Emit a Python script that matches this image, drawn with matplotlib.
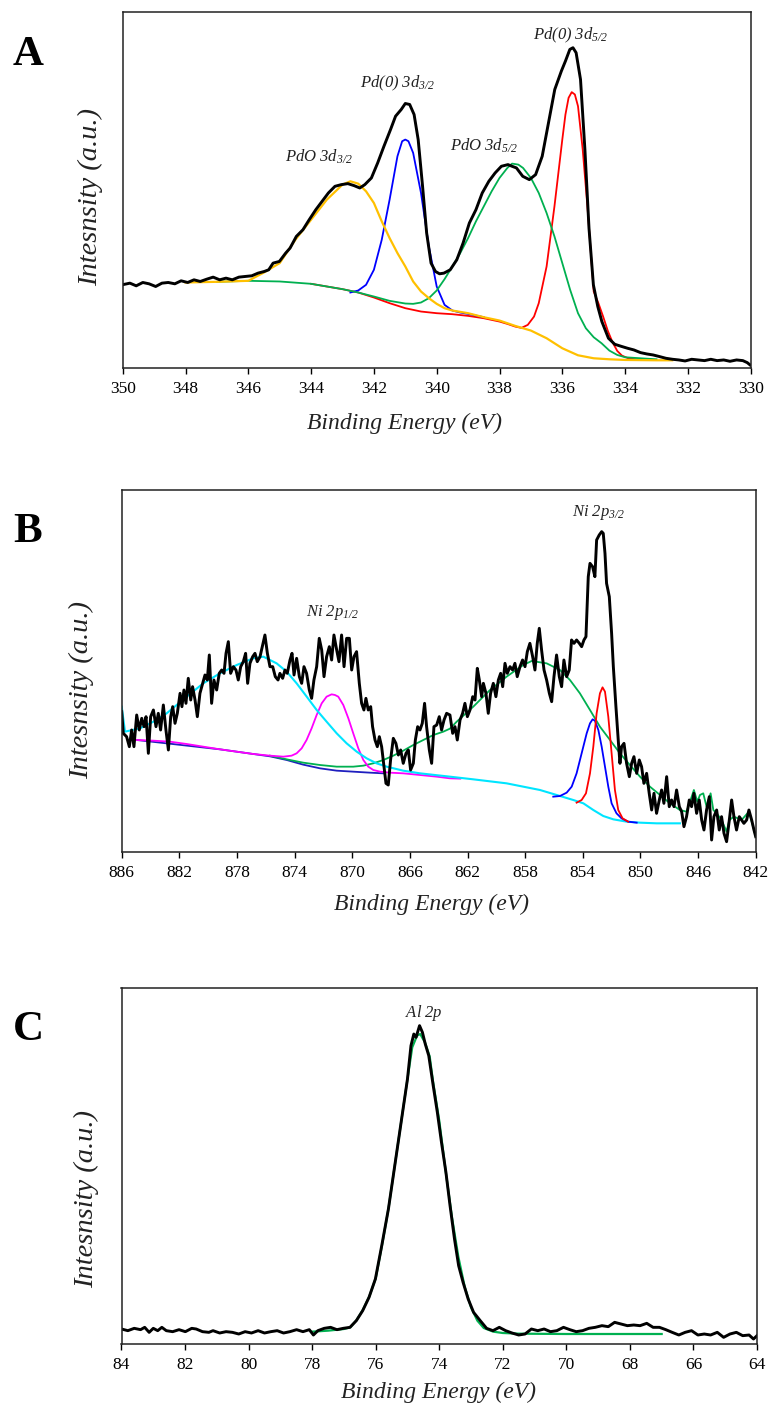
import matplotlib
matplotlib.use("Agg")
import matplotlib.pyplot as plt

plt.rcParams['font.family'] = ['Liberation Serif', 'DejaVu Serif']
plt.rcParams['mathtext.fontset'] = 'custom'
plt.rcParams['mathtext.rm'] = 'Liberation Serif:italic'
plt.rcParams['mathtext.it'] = 'Liberation Serif:italic'
plt.rcParams['mathtext.default'] = 'it'

# ---------------- Panel A : Pd 3d ----------------
a_xticks = [350, 348, 346, 344, 342, 340, 338, 336, 334, 332, 330]
a_black_ev = [350.02, 349.77, 349.57, 349.36, 349.16, 348.95, 348.75, 348.55, 348.34, 348.14,
              347.93, 347.73, 347.53, 347.32, 347.12, 346.91, 346.71, 346.51, 346.30, 346.10,
              345.89, 345.69, 345.49, 345.35, 345.21, 345.01, 344.81, 344.67, 344.47, 344.26,
              344.06, 343.85, 343.65, 343.45, 343.24, 343.04, 342.83, 342.63, 342.45, 342.29,
              342.08, 341.88, 341.68, 341.47, 341.31, 341.13, 341.00, 340.86, 340.72, 340.59,
              340.45, 340.32, 340.18, 340.04, 339.91, 339.77, 339.57, 339.36, 339.16, 338.96,
              338.75, 338.55, 338.34, 338.14, 337.94, 337.73, 337.60, 337.46, 337.26, 337.05,
              336.85, 336.64, 336.44, 336.24, 336.03, 335.90, 335.76, 335.66, 335.56, 335.42,
              335.28, 335.15, 335.01, 334.87, 334.74, 334.53, 334.33, 334.13, 333.92, 333.72,
              333.51, 333.31, 333.11, 332.90, 332.70, 332.49, 332.29, 332.09, 331.88, 331.68,
              331.47, 331.27, 331.07, 330.86, 330.66, 330.45, 330.25, 330.11, 330.02]
a_black_int = [250, 255, 247, 257, 253, 245, 255, 257, 253, 262,
               257, 265, 260, 267, 273, 265, 270, 265, 273, 275,
               277, 285, 290, 295, 315, 320, 345, 360, 395, 415,
               445, 475, 500, 525, 545, 550, 553, 547, 540, 550,
               570, 615, 665, 715, 755, 775, 793, 790, 760, 685,
               545, 405, 315, 290, 283, 285, 295, 325, 375, 435,
               475, 525, 560, 585, 605, 610, 605, 600, 575, 565,
               580, 635, 735, 835, 890, 920, 955, 960, 945, 865,
               655, 420, 250, 185, 140, 90, 72, 66, 60, 55,
               47, 43, 40, 35, 30, 27, 25, 22, 27, 25,
               23, 27, 23, 25, 21, 25, 23, 17, 10]
a_yellow_ev = [348, 347, 346, 345.5, 345, 344.5, 344, 343.5, 343, 342.75, 342.5, 342.25, 342,
               341.75, 341.5, 341.25, 341, 340.75, 340.5, 340.25, 340, 339.75, 339.5, 339,
               338.5, 338, 337.5, 337, 336.5, 336, 335.5, 335, 334.5, 334, 333, 332.5]
a_yellow_int = [257, 259, 262, 287, 315, 385, 445, 505, 550, 560, 553, 530, 495,
                440, 390, 345, 305, 260, 230, 210, 193, 180, 173, 165,
                153, 143, 127, 113, 90, 60, 39, 30, 27, 25, 24, 24]
a_blue_ev = [342.75, 342.5, 342.25, 342, 341.75, 341.5, 341.25, 341.1, 341, 340.9, 340.75,
             340.5, 340.25, 340, 339.75, 339.5, 339.25, 339, 338.5]
a_blue_int = [227, 233, 250, 295, 385, 505, 635, 680, 685, 680, 645,
              525, 365, 245, 190, 173, 167, 163, 153]
a_green_ev = [347, 346, 345, 344, 343.5, 343, 342.5, 342, 341.5, 341, 340.75, 340.5, 340.25,
              340, 339.75, 339.5, 339.25, 339, 338.75, 338.5, 338.25, 338, 337.75, 337.6,
              337.4, 337.25, 337, 336.75, 336.5, 336.25, 336, 335.75, 335.5, 335.25, 335,
              334.75, 334.5, 334.25, 334, 333.5, 333]
a_green_int = [259, 262, 260, 253, 245, 237, 227, 215, 202, 194, 193, 197, 210,
               233, 267, 305, 345, 390, 440, 485, 530, 570, 600, 613,
               610, 600, 570, 525, 465, 395, 315, 235, 165, 120, 93,
               75, 53, 40, 33, 30, 27]
a_red_ev = [344, 343, 342.5, 342, 341.5, 341, 340.5, 340, 339.5, 339, 338.5, 338, 337.75,
            337.5, 337.3, 337.1, 336.9, 336.75, 336.5, 336.25, 336, 335.9, 335.8, 335.7,
            335.6, 335.5, 335.35, 335.2, 335, 334.85, 334.7, 334.55, 334.4, 334.25, 334.1,
            333.9, 333.5]
a_red_int = [253, 237, 227, 212, 195, 180, 170, 165, 162, 157, 150, 140, 133,
             125, 121, 130, 155, 195, 305, 485, 685, 760, 810, 827,
             820, 785, 655, 485, 230, 195, 155, 112, 78, 52, 38,
             30, 25]
a_labels = [r"$PdO\ 3d_{3/2}$", r"$Pd(0)\ 3d_{3/2}$", r"$PdO\ 3d_{5/2}$", r"$Pd(0)\ 3d_{5/2}$"]
a_label_ev = [343.75, 341.23, 338.49, 335.72]
a_label_int = [634, 853, 667, 997]

# ---------------- Panel B : Ni 2p ----------------
b_xticks = [886, 882, 878, 874, 870, 866, 862, 858, 854, 850, 846, 842]
b_black = [(886.00, 421), (885.89, 356), (885.66, 346), (885.47, 316), (885.31, 366), (885.15, 316),
           (884.96, 411), (884.78, 366), (884.61, 401), (884.45, 376), (884.31, 406), (884.15, 296),
           (883.99, 406), (883.80, 426), (883.62, 376), (883.46, 416), (883.30, 366), (883.11, 441),
           (882.93, 366), (882.76, 306), (882.60, 406), (882.46, 436), (882.30, 386), (882.14, 416),
           (881.95, 476), (881.82, 436), (881.68, 486), (881.54, 446), (881.38, 521), (881.21, 456),
           (881.08, 496), (880.91, 456), (880.75, 406), (880.57, 476), (880.38, 506), (880.22, 531),
           (880.06, 516), (879.92, 591), (879.76, 446), (879.60, 516), (879.41, 486), (879.23, 536),
           (879.06, 546), (878.90, 536), (878.76, 596), (878.60, 631), (878.44, 536), (878.25, 556),
           (878.07, 546), (877.91, 516), (877.74, 556), (877.56, 571), (877.40, 596), (877.26, 506),
           (877.10, 566), (876.91, 586), (876.75, 596), (876.59, 571), (876.40, 586), (876.24, 616),
           (876.06, 651), (875.89, 596), (875.71, 556), (875.52, 556), (875.34, 526), (875.15, 516),
           (875.02, 536), (874.83, 521), (874.67, 546), (874.51, 536), (874.32, 576), (874.18, 596),
           (874.04, 531), (873.86, 581), (873.67, 526), (873.51, 506), (873.35, 556), (873.17, 536),
           (872.98, 486), (872.82, 461), (872.66, 516), (872.47, 556), (872.29, 641), (872.12, 606),
           (871.96, 526), (871.78, 586), (871.59, 616), (871.43, 576), (871.27, 651), (871.08, 606),
           (870.92, 571), (870.74, 651), (870.57, 556), (870.39, 641), (870.20, 641), (870.04, 546),
           (869.88, 586), (869.70, 601), (869.51, 506), (869.35, 446), (869.19, 426), (869.05, 461),
           (868.89, 426), (868.72, 436), (868.59, 376), (868.42, 336), (868.26, 316), (868.12, 346),
           (867.96, 316), (867.80, 256), (867.66, 206), (867.50, 201), (867.34, 276), (867.15, 341),
           (866.97, 326), (866.80, 291), (866.64, 306), (866.46, 266), (866.27, 296), (866.11, 306),
           (865.95, 246), (865.76, 266), (865.62, 336), (865.46, 376), (865.30, 366), (865.14, 386),
           (864.98, 446), (864.84, 376), (864.65, 306), (864.49, 266), (864.33, 376), (864.14, 381),
           (863.96, 406), (863.80, 366), (863.63, 396), (863.45, 416), (863.22, 411),
           (863.03, 356), (862.87, 376), (862.71, 336), (862.52, 396), (862.34, 416), (862.18, 446),
           (862.01, 406), (861.83, 426), (861.64, 466), (861.48, 456), (861.32, 551), (861.18, 516),
           (861.02, 466), (860.90, 506), (860.72, 476), (860.56, 416), (860.40, 476), (860.21, 506),
           (860.03, 466), (859.86, 516), (859.70, 536), (859.56, 496), (859.40, 566), (859.24, 536),
           (859.05, 556), (858.87, 546), (858.71, 566), (858.55, 526), (858.36, 556), (858.18, 576),
           (858.01, 556), (857.85, 601), (857.67, 626), (857.48, 586), (857.32, 546), (857.16, 626),
           (857.02, 671), (856.86, 606), (856.69, 546), (856.51, 516), (856.32, 476), (856.16, 451),
           (856.00, 526), (855.82, 591), (855.63, 526), (855.47, 496), (855.31, 576), (855.12, 526),
           (854.94, 546), (854.78, 636), (854.61, 626), (854.43, 636), (854.24, 626), (854.08, 616),
           (853.92, 636), (853.78, 646), (853.62, 826), (853.50, 866), (853.32, 856), (853.16, 826),
           (853.04, 936), (852.86, 951), (852.69, 961), (852.58, 956), (852.46, 896), (852.35, 806),
           (852.16, 766), (852.00, 656), (851.88, 556), (851.70, 436), (851.54, 336), (851.42, 266),
           (851.31, 316), (851.14, 326), (850.96, 266), (850.77, 226), (850.61, 266), (850.45, 286),
           (850.26, 236), (850.08, 276), (849.92, 256), (849.76, 206), (849.57, 236), (849.39, 176),
           (849.22, 126), (849.06, 176), (848.88, 116), (848.69, 156), (848.53, 186), (848.37, 146),
           (848.18, 226), (848.00, 136), (847.84, 156), (847.67, 136), (847.49, 186), (847.30, 136),
           (847.14, 121), (846.98, 76), (846.80, 106), (846.61, 156), (846.45, 136), (846.29, 176),
           (846.10, 116), (845.92, 156), (845.75, 96), (845.59, 66), (845.41, 126), (845.22, 166),
           (845.06, 36), (844.90, 106), (844.71, 126), (844.53, 66), (844.37, 106), (844.20, 56),
           (844.02, 31), (843.83, 96), (843.67, 156), (843.51, 106), (843.33, 66), (843.14, 106),
           (842.98, 96), (842.82, 86), (842.63, 96), (842.47, 126), (842.28, 96), (842.12, 66),
           (842.00, 46)]
b_cyan = [(886.00, 436), (885.77, 361), (884.73, 371), (883.80, 391), (882.88, 416), (881.49, 466),
          (880.34, 506), (879.18, 536), (878.02, 561), (876.87, 581), (876.17, 586), (875.25, 566),
          (874.55, 541), (873.86, 506), (873.16, 466), (872.47, 426), (871.78, 391), (871.08, 356),
          (870.39, 326), (869.69, 301), (869.00, 281), (868.31, 266), (867.61, 256), (866.46, 244),
          (865.30, 236), (863.22, 226), (861.60, 218), (859.29, 206), (856.97, 186), (855.81, 171),
          (854.66, 156), (853.96, 146), (853.27, 126), (852.58, 108), (851.88, 98), (850.96, 91),
          (850.03, 88), (848.87, 86), (847.26, 86)]
b_magenta = [(884.96, 336), (883.80, 334), (882.65, 331), (881.49, 324), (880.34, 316), (879.18, 308),
             (878.02, 301), (876.87, 294), (875.71, 289), (874.78, 286), (874.21, 289), (873.86, 296),
             (873.51, 311), (873.17, 336), (872.82, 371), (872.47, 411), (872.12, 446), (871.78, 466),
             (871.43, 473), (871.20, 471), (870.97, 466), (870.62, 441), (870.27, 401), (869.93, 356),
             (869.58, 311), (869.23, 276), (868.89, 256), (868.54, 246), (868.07, 241), (867.38, 238),
             (866.46, 236), (865.30, 231), (864.14, 226), (863.22, 221), (862.50, 220)]
b_navy = [(884.96, 336), (879.18, 308), (875.71, 287), (874.55, 276), (873.40, 262), (872.24, 251),
          (871.08, 244), (869.93, 241), (868.77, 238), (867.84, 236)]
b_green = [(875.71, 289), (874.55, 278), (873.40, 268), (872.24, 261), (871.08, 256), (869.93, 256),
           (869.23, 259), (868.54, 266), (867.84, 276), (867.15, 289), (866.46, 304), (865.76, 321),
           (865.07, 336), (864.37, 351), (863.68, 361), (863.22, 370), (862.75, 391), (861.60, 436),
           (860.44, 486), (859.29, 526), (858.13, 561), (857.55, 573), (856.51, 566), (855.58, 546),
           (854.89, 516), (854.20, 476), (853.50, 426), (852.81, 376), (852.11, 336), (851.42, 296),
           (850.73, 261), (850.03, 226), (849.34, 196), (848.64, 171), (847.95, 146), (847.26, 126),
           (846.80, 121), (846.52, 156), (846.29, 186), (846.05, 151), (845.87, 171), (845.64, 176),
           (845.41, 136), (845.13, 176), (844.94, 126), (844.71, 116), (844.37, 96), (844.02, 61),
           (843.83, 96), (843.51, 106), (842.98, 96), (842.47, 121), (842.12, 66), (842.00, 46)]
b_blue = [(856.05, 166), (855.58, 168), (855.12, 178), (854.77, 196), (854.43, 236), (854.08, 296),
          (853.73, 356), (853.50, 386), (853.32, 398), (853.16, 394), (852.92, 366), (852.69, 316),
          (852.46, 256), (852.23, 196), (852.00, 146), (851.66, 116), (851.31, 101), (850.85, 91),
          (850.26, 88)]
b_red = [(854.43, 148), (854.08, 156), (853.78, 176), (853.50, 236), (853.27, 316), (853.04, 416),
         (852.81, 476), (852.63, 494), (852.46, 481), (852.23, 406), (852.00, 296), (851.77, 186),
         (851.54, 126), (851.24, 101), (850.85, 91)]
b_labels = [r"$Ni\ 2p_{1/2}$", r"$Ni\ 2p_{3/2}$"]
b_label_ev = [871.37, 852.91]
b_label_int = [720, 1017]

# ---------------- Panel C : Al 2p ----------------
c_xticks = [84, 82, 80, 78, 76, 74, 72, 70, 68, 66, 64]
c_black_ev = [84.00, 83.80, 83.60, 83.40, 83.27, 83.13, 83.00, 82.86, 82.73, 82.59,
              82.39, 82.19, 81.99, 81.79, 81.65, 81.45, 81.25, 81.12, 80.91, 80.71,
              80.51, 80.31, 80.11, 79.91, 79.70, 79.50, 79.30, 79.10, 78.90, 78.70,
              78.49, 78.29, 78.09, 77.96, 77.82, 77.62, 77.42, 77.22, 77.02, 76.81,
              76.61, 76.41, 76.21, 76.01, 75.81, 75.60, 75.40, 75.20, 75.00, 74.89,
              74.80, 74.73, 74.62, 74.53, 74.44, 74.33, 74.19, 74.06, 73.93, 73.79,
              73.66, 73.52, 73.39, 73.25, 73.09, 72.92, 72.71, 72.51, 72.31, 72.11,
              71.91, 71.71, 71.50, 71.30, 71.10, 70.90, 70.70, 70.50, 70.30, 70.09,
              69.89, 69.69, 69.49, 69.29, 69.09, 68.88, 68.68, 68.48, 68.28, 68.08,
              67.88, 67.68, 67.47, 67.27, 67.07, 66.87, 66.67, 66.46, 66.26, 66.06,
              65.86, 65.66, 65.46, 65.25, 65.05, 64.85, 64.65, 64.45, 64.25, 64.11, 64.00]
c_black_int = [45, 40, 47, 43, 50, 35, 47, 40, 50, 40,
               37, 43, 37, 47, 45, 37, 35, 40, 33, 37,
               35, 30, 37, 33, 40, 33, 37, 40, 33, 37,
               43, 37, 43, 27, 40, 47, 50, 43, 47, 50,
               70, 100, 140, 195, 295, 405, 535, 665, 795, 895,
               930, 920, 955, 935, 900, 865, 775, 695, 605, 515,
               415, 315, 235, 185, 135, 95, 70, 47, 40, 50,
               40, 33, 27, 30, 45, 40, 45, 37, 40, 50,
               43, 37, 40, 47, 50, 55, 52, 65, 60, 55,
               57, 55, 62, 50, 50, 43, 35, 27, 35, 40,
               27, 30, 27, 35, 20, 30, 35, 25, 27, 15, 25]
c_green_ev = [78.0, 77.5, 77.0, 76.8, 76.6, 76.4, 76.2, 76.0, 75.8, 75.6, 75.4, 75.2, 75.0,
              74.85, 74.7, 74.6, 74.45, 74.3, 74.2, 74.0, 73.8, 73.6, 73.4, 73.2, 73.0,
              72.8, 72.6, 72.3, 72.0, 71.5, 70.0, 67.0]
c_green_int = [37, 40, 45, 50, 72, 103, 143, 197, 297, 405, 535, 665, 795,
               890, 925, 930, 905, 862, 790, 670, 520, 380, 262, 172, 110,
               70, 48, 37, 33, 31, 30, 30]
c_labels = [r"$Al\ 2p$"]
c_label_ev = [74.47]
c_label_int = [993]

W, H = 771, 1410
fig = plt.figure(figsize=(W / 100, H / 100), dpi=100)


def make_axes(left, right, top, bottom):
    return fig.add_axes([left / W, 1 - bottom / H, (right - left) / W, (bottom - top) / H])


def style(ax, xlim, ylim, ticks, xlab_pos, ylab_pos):
    ax.set_xlim(*xlim)
    ax.set_ylim(*ylim)
    ax.set_xticks(ticks)
    ax.set_xticklabels([str(t) for t in ticks])
    ax.set_yticks([])
    ax.tick_params(axis='x', direction='out', length=4, width=1.0, labelsize=12.5, pad=5.5)
    for s in ax.spines.values():
        s.set_linewidth(1.1)
        s.set_color('#222222')
    ax.set_xlabel('Binding Energy (eV)', fontsize=17, fontstyle='italic', color='#222222')
    ax.xaxis.set_label_coords(*xlab_pos)
    ax.xaxis.label.set_verticalalignment('center')
    ax.set_ylabel('Intesnsity (a.u.)', fontsize=20.5, fontstyle='italic', color='#222222')
    ax.yaxis.set_label_coords(*ylab_pos)
    ax.yaxis.label.set_verticalalignment('center')


def unzip(pairs):
    return [p[0] for p in pairs], [p[1] for p in pairs]


CW = 1.3
BW = 2.1

# Panel A
axA = make_axes(122.7, 750.7, 12, 368.3)
axA.plot(a_red_ev, a_red_int, color='#FF0000', lw=CW)
axA.plot(a_blue_ev, a_blue_int, color='#0000FF', lw=CW)
axA.plot(a_green_ev, a_green_int, color='#00B050', lw=CW)
axA.plot(a_yellow_ev, a_yellow_int, color='#FFC000', lw=CW + 0.3)
axA.plot(a_black_ev, a_black_int, color='black', lw=BW)
for t, x, y in zip(a_labels, a_label_ev, a_label_int):
    axA.text(x, y, t, fontsize=12, ha='center', va='center', color='#222222')
style(axA, (350, 330), (0, 1067), a_xticks, (0.4495, -55 / 356), (-0.052, 0.482))

# Panel B
axB = make_axes(121.7, 755.7, 490, 852)
x, y = unzip(b_navy)
axB.plot(x, y, color='#1F1FBF', lw=CW)
x, y = unzip(b_green)
axB.plot(x, y, color='#00B050', lw=CW)
x, y = unzip(b_magenta)
axB.plot(x, y, color='#FF00FF', lw=CW)
x, y = unzip(b_cyan)
axB.plot(x, y, color='#00E5FF', lw=CW + 0.2)
x, y = unzip(b_blue)
axB.plot(x, y, color='#0000FF', lw=CW)
x, y = unzip(b_red)
axB.plot(x, y, color='#FF0000', lw=CW)
x, y = unzip(b_black)
axB.plot(x, y, color='black', lw=BW)
for t, xx, yy in zip(b_labels, b_label_ev, b_label_int):
    axB.text(xx, yy, t, fontsize=12, ha='center', va='center', color='#222222')
style(axB, (886, 842), (0, 1086), b_xticks, (0.489, -52 / 362), (-0.0626, 0.4475))

# Panel C
axC = make_axes(121.5, 757, 988, 1344)
axC.plot(c_green_ev, c_green_int, color='#00B050', lw=CW + 0.3)
axC.plot(c_black_ev, c_black_int, color='black', lw=BW)
for t, xx, yy in zip(c_labels, c_label_ev, c_label_int):
    axC.text(xx, yy, t, fontsize=12, ha='center', va='center', color='#222222')
style(axC, (84, 64), (0, 1068), c_xticks, (0.4985, -48 / 356), (-0.0543, 0.407))

for letter, yy in zip(['A', 'B', 'C'], [55, 532, 1030]):
    fig.text(28 / W, 1 - yy / H, letter, fontsize=31, fontweight='bold', ha='center', va='center')

fig.savefig('out.png', dpi=100)
